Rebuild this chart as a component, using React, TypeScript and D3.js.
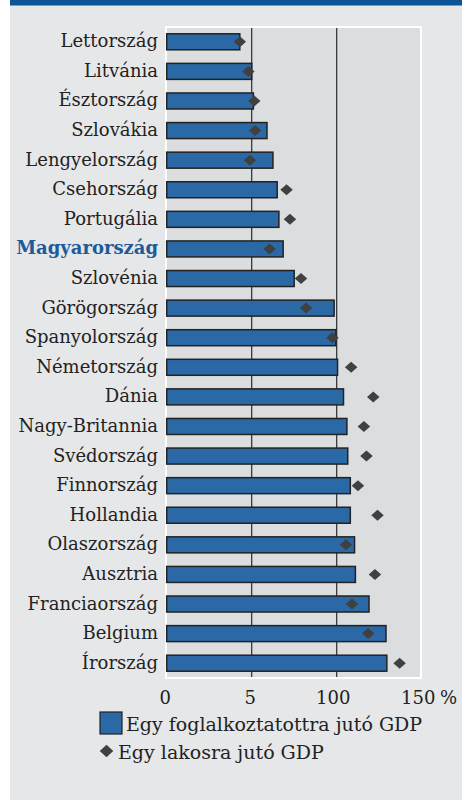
import React from "react";
import * as d3 from "d3";

const categories = ["Lettország","Litvánia","Észtország","Szlovákia","Lengyelország","Csehország","Portugália","Magyarország","Szlovénia","Görögország","Spanyolország","Németország","Dánia","Nagy-Britannia","Svédország","Finnország","Hollandia","Olaszország","Ausztria","Franciaország","Belgium","Írország"];
const perEmployed = [43, 50, 51, 59, 62.5, 65, 66, 68.5, 75, 98.5, 99.5, 100.5, 104, 106, 106.5, 108, 108, 110.5, 111, 119, 129, 129.5];
const perCapita = [43, 48, 51.5, 52, 49, 70.5, 72.5, 60.5, 79, 82, 97.5, 108.5, 121.5, 116, 117.5, 112.5, 124, 105.5, 122.5, 109, 118.5, 137];
const tickValues = [0, 50, 100, 150];
const tickLabels = ["0", "5", "100", "150"];
const unitLabel = "%";
const gridValues = [50, 100];
const legendLabels = ["Egy foglalkoztatottra jutó GDP", "Egy lakosra jutó GDP"];
const highlight = "Magyarország";

const W = 462, H = 800;
const FONT = "'DejaVu Serif', serif";
const BG = "#e6e7e9";
const PLOT_BG = "#dcdddf";
const BAR = "#2a69a6";
const DARK = "#222";
const DIAMOND = "#404040";
const BAND = "#0b5597";

export default function App() {
  const x = d3.scaleLinear().domain([0, 150]).range([166.7, 421.7]);
  const y = d3.scaleBand<string>().domain(categories).range([27, 678]);
  const bh = 16;
  const diamond = (cx: number, cy: number, w: number, h: number) =>
    `M${cx},${cy - h / 2}L${cx + w / 2},${cy}L${cx},${cy + h / 2}L${cx - w / 2},${cy}Z`;
  const cyOf = (c: string) => (y(c) as number) + y.bandwidth() / 2;
  const ts: React.CSSProperties = { fontFamily: FONT };
  const fs = 18;

  return (
    <div style={{ position: "absolute", left: 0, top: 0, width: W, height: H }}>
      <svg width={W} height={H} style={{ display: "block", fontFamily: FONT }}>
        <rect x={0} y={0} width={W} height={H} fill="#ffffff" />
        <rect x={10} y={0} width={W - 10} height={H} fill={BG} />
        <rect x={10} y={0} width={W - 10} height={5.5} fill={BAND} />
        <rect x={166} y={27} width={255} height={651} fill={PLOT_BG} stroke="#ffffff" strokeWidth={2} />
        {gridValues.map((g) => (
          <line key={g} x1={x(g)} x2={x(g)} y1={28} y2={677} stroke="#2b2b2b" strokeWidth={1.2} />
        ))}
        {categories.map((c, i) => {
          const cy = cyOf(c);
          const hl = c === highlight;
          return (
            <g key={c}>
              <text x={158} y={cy + 5.5} textAnchor="end" fontSize={fs} fontWeight={hl ? "bold" : "normal"} fill={hl ? "#1d5b99" : "#222"} style={ts}>{c}</text>
              <rect x={x(0)} y={cy - bh / 2} width={x(perEmployed[i]) - x(0)} height={bh} fill={BAR} stroke={DARK} strokeWidth={1.5} />
              <path d={diamond(x(perCapita[i]), cy, 12.5, 11)} fill={DIAMOND} />
            </g>
          );
        })}
        {tickValues.map((t, i) => (
          <text key={t} x={x(t) - (tickLabels[i].length > 1 ? 3.5 : 1.5)} y={704} textAnchor="middle" fontSize={fs} fill="#222" style={ts}>{tickLabels[i]}</text>
        ))}
        <text x={440} y={704} fontSize={fs} fill="#222" style={ts}>{unitLabel}</text>
        <rect x={100} y={712} width={22} height={22} fill={BAR} stroke={DARK} strokeWidth={1.2} />
        <text x={126} y={731} fontSize={19} fill="#222" style={ts}>{legendLabels[0]}</text>
        <path d={diamond(106.5, 751, 13.5, 12.5)} fill={DIAMOND} />
        <text x={118} y={759} fontSize={19} fill="#222" style={ts}>{legendLabels[1]}</text>
      </svg>
    </div>
  );
}
